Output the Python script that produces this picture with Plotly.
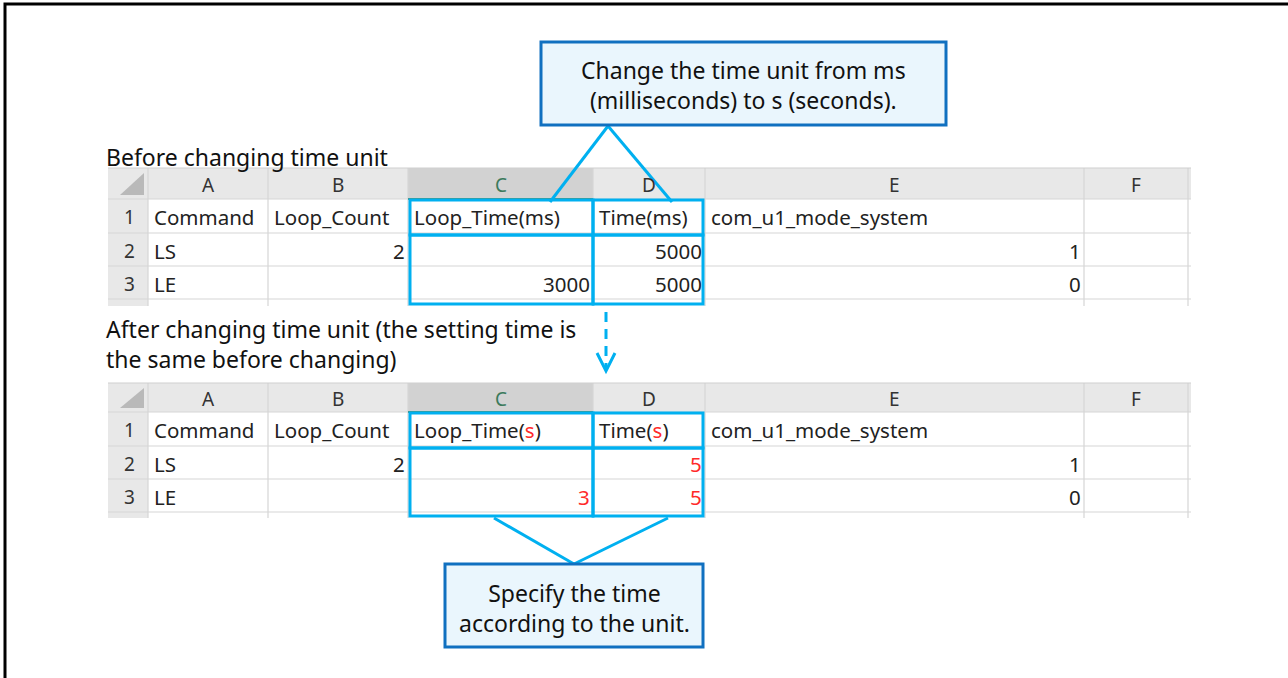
import plotly.graph_objects as go

# ---------------- data (cell contents) ----------------
col_letters = ["A", "B", "C", "D", "E", "F"]
row_numbers = ["1", "2", "3"]
header_before = ["Command", "Loop_Count", "Loop_Time(ms)", "Time(ms)", "com_u1_mode_system", ""]
header_after = ["Command", "Loop_Count", "Loop_Time(s)", "Time(s)", "com_u1_mode_system", ""]
command = ["LS", "LE"]
loop_count = [2, None]
loop_time_before = [None, 3000]
time_before = [5000, 5000]
loop_time_after = [None, 3]
time_after = [5, 5]
mode_system = [1, 0]

label_before = "Before changing time unit"
label_after = ["After changing time unit (the setting time is", "the same before changing)"]
callout_top = ["Change the time unit from ms", "(milliseconds) to s (seconds)."]
callout_bottom = ["Specify the time", "according to the unit."]

# ---------------- layout constants ----------------
W, H = 1288, 678
col_edges = [108, 148, 268, 408, 593, 705, 1084, 1188]
table_right = 1191
rows1 = [168, 199, 233, 266, 299, 306]
rows2 = [383, 412, 446, 479, 512, 518]

CYAN = "#00b0f0"
DARKBLUE = "#1070c0"
RED = "#ff2a2a"
GRID = "#d6d6d6"
HDR = "#e8e8e8"
HDR_SEL = "#d2d2d2"
TXT = "#222222"
CELL_FONT = "Noto Sans"
LABEL_FONT = "Noto Sans"
CELL_SIZE = 20.5
LABEL_SIZE = 23

shapes = []
annotations = []


def rect(x0, y0, x1, y1, fill=None, line_color=None, width=0, layer="above"):
    d = dict(type="rect", xref="x", yref="y", x0=x0, y0=y0, x1=x1, y1=y1, layer=layer,
             line=dict(width=width, color=line_color or "rgba(0,0,0,0)"))
    d["fillcolor"] = fill if fill else "rgba(0,0,0,0)"
    shapes.append(d)


def line(x0, y0, x1, y1, color, width, dash="solid"):
    shapes.append(dict(type="line", xref="x", yref="y", x0=x0, y0=y0, x1=x1, y1=y1,
                       line=dict(color=color, width=width, dash=dash)))


def text(x, y, s, size=CELL_SIZE, color=TXT, anchor="left", font=CELL_FONT, align=None):
    annotations.append(dict(x=x, y=y, xref="x", yref="y", text=s, showarrow=False,
                            xanchor=anchor, yanchor="middle", align=align or anchor,
                            font=dict(family=font, size=size, color=color)))


def fmt(v):
    return "" if v is None else str(v)


def draw_table(rows, header, columns_data, red_cols):
    top, bottom = rows[0], rows[-1]
    rect(col_edges[0], top, table_right, bottom, fill="white", layer="below")
    rect(col_edges[0], top, table_right, rows[1], fill=HDR, layer="below")
    rect(col_edges[0], top, col_edges[1], bottom, fill=HDR, layer="below")
    rect(col_edges[3], top, col_edges[4], rows[1], fill=HDR_SEL, layer="below")
    shapes.append(dict(type="path", xref="x", yref="y", layer="below",
                       path=f"M {col_edges[1]-4} {rows[1]-4} L {col_edges[0]+12} {rows[1]-4} "
                            f"L {col_edges[1]-4} {top+5} Z",
                       fillcolor="#b9b9b9", line=dict(width=0)))
    for x in col_edges[1:]:
        line(x, top, x, bottom, GRID, 1.2)
    for y in rows[1:-1]:
        line(col_edges[0], y, table_right, y, GRID, 1.2)
    line(col_edges[0], top, table_right, top, "#cfcfcf", 1)
    line(col_edges[3], rows[1], col_edges[4], rows[1], "#2e7d4f", 1.5)
    for i, c in enumerate(col_letters):
        cx = (col_edges[i + 1] + col_edges[i + 2]) / 2
        text(cx, (rows[0] + rows[1]) / 2 + 1, c, size=19,
             color="#3c7a5c" if c == "C" else "#333333", anchor="center")
    for r, n in enumerate(row_numbers):
        text((col_edges[0] + col_edges[1]) / 2 + 1, (rows[r + 1] + rows[r + 2]) / 2 + 1, n,
             size=19, color="#333333", anchor="center")
    ym = (rows[1] + rows[2]) / 2 + 1
    for i, h in enumerate(header):
        if not h:
            continue
        s = h
        if i in red_cols and "(" in h:
            base = h[:h.index("(") + 1]
            unit = h[h.index("(") + 1:h.index(")")]
            s = f"{base}<span style='color:{RED}'>{unit}</span>)"
        text(col_edges[i + 1] + 4, ym, s)
    for r in range(2):
        ym = (rows[r + 2] + rows[r + 3]) / 2 + 1
        for i, col in enumerate(columns_data):
            v = col[r]
            if v is None:
                continue
            color = RED if i in red_cols else TXT
            if isinstance(v, str):
                text(col_edges[i + 1] + 4, ym, v, color=color)
            else:
                text(col_edges[i + 2] - 1, ym, fmt(v), color=color, anchor="right")
    for i in (2, 3):
        x0 = col_edges[i + 1] + (2 if i == 2 else 0)
        x1 = col_edges[i + 2] - (2 if i == 3 else 0)
        rect(x0, rows[1] + 1, x1, rows[2] + 2, line_color=CYAN, width=3)
        rect(x0, rows[2] + 2, x1, rows[-1] - 2, line_color=CYAN, width=3)


empty = [None, None]
draw_table(rows1, header_before,
           [command, loop_count, loop_time_before, time_before, mode_system, empty], red_cols=())
draw_table(rows2, header_after,
           [command, loop_count, loop_time_after, time_after, mode_system, empty], red_cols=(2, 3))

# labels
text(104, 157, label_before, size=LABEL_SIZE, color="#111111", font=LABEL_FONT)
text(104, 344, "<br>".join(label_after), size=LABEL_SIZE, color="#111111", font=LABEL_FONT)

# top callout
line(608, 126, 550, 202, CYAN, 3)
line(608, 126, 672, 202, CYAN, 3)
rect(541, 42, 946, 125, fill="#eaf6fd", line_color=DARKBLUE, width=3)
text(743, 85, "<br>".join(callout_top), size=LABEL_SIZE, color="#111111",
     anchor="center", font=LABEL_FONT)

# dashed arrow
line(606, 312, 606, 368, CYAN, 3, dash="10px,7px")
shapes.append(dict(type="path", xref="x", yref="y",
                   path="M 597 353 L 606 371 L 615 353",
                   line=dict(color=CYAN, width=3)))

# bottom callout
line(494, 518, 574, 564, CYAN, 3)
line(668, 518, 574, 564, CYAN, 3)
rect(445, 564, 703, 647, fill="#eaf6fd", line_color=DARKBLUE, width=3)
text(574, 608, "<br>".join(callout_bottom), size=LABEL_SIZE, color="#111111",
     anchor="center", font=LABEL_FONT)

# outer frame (left and top edges)
shapes.append(dict(type="path", xref="x", yref="y",
                   path=f"M 5 {H+5} L 5 4 L {W+5} 4",
                   line=dict(color="black", width=3)))

fig = go.Figure()
fig.add_trace(go.Scatter(x=[0, W], y=[0, H], mode="markers",
                         marker=dict(opacity=0), hoverinfo="skip", showlegend=False))
fig.update_layout(
    width=W, height=H,
    margin=dict(l=0, r=0, t=0, b=0),
    paper_bgcolor="white", plot_bgcolor="white",
    xaxis=dict(range=[0, W], visible=False, fixedrange=True),
    yaxis=dict(range=[H, 0], visible=False, fixedrange=True),
    shapes=shapes, annotations=annotations,
)
fig.write_html("out.html", config={"displayModeBar": False},
               post_script="document.body.style.margin='0';document.body.style.overflow='hidden';")
